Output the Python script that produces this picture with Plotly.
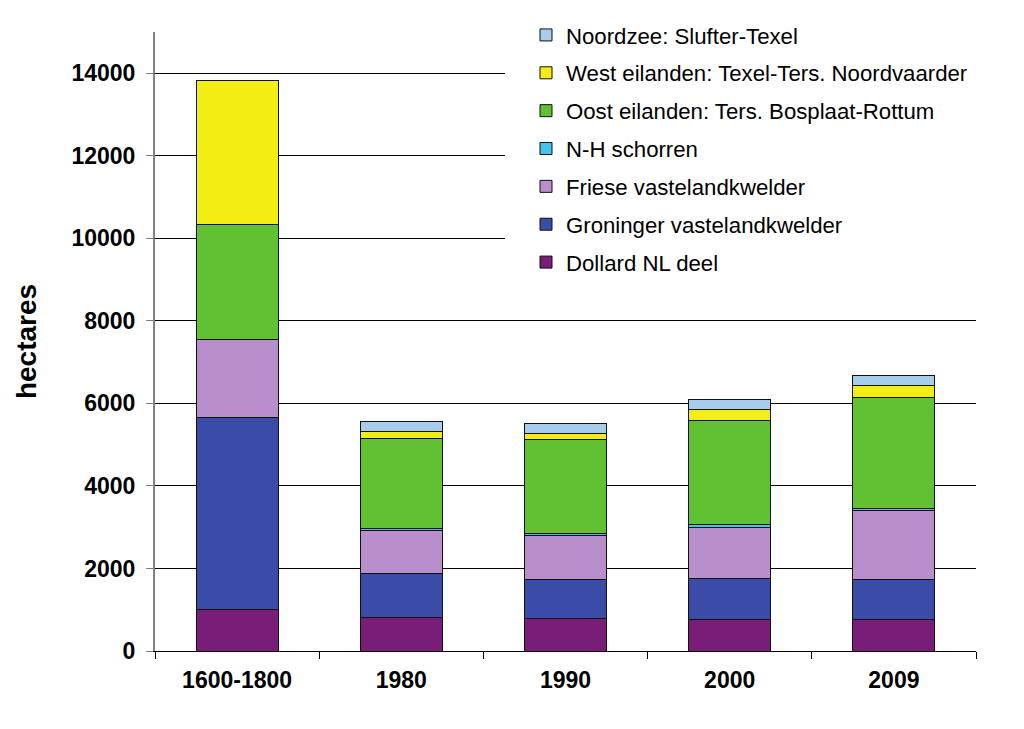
import plotly.graph_objects as go

categories = ["1600-1800", "1980", "1990", "2000", "2009"]

dollard = [1000, 800, 780, 757, 757]
groninger = [4650, 1080, 952, 990, 970]
friese = [1890, 1050, 1074, 1243, 1676]
nh_schorren = [0, 30, 30, 80, 50]
oost = [2800, 2190, 2282, 2523, 2684]
west = [3490, 160, 145, 266, 290]
noordzee = [0, 258, 249, 234, 250]

series = [
    ("Dollard NL deel", dollard, "#781E78"),
    ("Groninger vastelandkwelder", groninger, "#3A4BA8"),
    ("Friese vastelandkwelder", friese, "#B88ECC"),
    ("N-H schorren", nh_schorren, "#46C3EB"),
    ("Oost eilanden: Ters. Bosplaat-Rottum", oost, "#62C133"),
    ("West eilanden: Texel-Ters. Noordvaarder", west, "#F2EE14"),
    ("Noordzee: Slufter-Texel", noordzee, "#A8CCEC"),
]

fig = go.Figure()
n = len(series)
for i, (name, vals, color) in enumerate(series):
    fig.add_trace(go.Bar(
        x=categories, y=vals, name=name, legendgroup=f"g{i}",
        legendrank=(n - i) * 10,
        marker=dict(color=color, line=dict(color="#111111", width=1)),
    ))

font_family = "Liberation Sans, Arial, sans-serif"

# page body has an 8px margin; compensate
OFF = 8
L, R, T, B = 147, 56, 24, 86
W, H = 1024, 729
plot_w = W - L - R
plot_h = H - T - B


def px_x(sx):
    return (sx - OFF - L) / plot_w


def px_y(sy):
    return (H - B - (sy - OFF)) / plot_h


fig.update_layout(
    width=W, height=H,
    barmode="stack", bargap=0.5,
    plot_bgcolor="white", paper_bgcolor="white",
    margin=dict(l=L, r=R, t=T, b=B, autoexpand=False),
    font=dict(family=font_family, color="black"),
    legend=dict(
        x=px_x(526), xanchor="left",
        y=(H - B - 6) / plot_h, yanchor="top",
        traceorder="grouped", tracegroupgap=6,
        font=dict(size=22.2, family=font_family, color="black"),
        bgcolor="rgba(0,0,0,0)",
    ),
    showlegend=True,
    shapes=[dict(
        type="rect", xref="paper", yref="paper",
        x0=px_x(505), x1=1.01, y0=px_y(290), y1=0.999,
        fillcolor="white", line=dict(width=0), layer="above",
    )],
)

fig.update_xaxes(
    type="category", showline=True, linecolor="black", linewidth=1,
    ticks="outside", ticklen=7, tickcolor="black", tickson="boundaries",
    tickfont=dict(size=23, family=font_family, weight="bold", color="black"),
    ticklabelstandoff=8, automargin=False,
    showgrid=False, zeroline=False,
)
fig.update_yaxes(
    range=[0, 15000], tickvals=[0, 2000, 4000, 6000, 8000, 10000, 12000, 14000],
    tickformat="d", automargin=False,
    showline=True, linecolor="#808080", linewidth=2,
    ticks="outside", ticklen=7, tickcolor="#808080",
    tickfont=dict(size=23, family=font_family, weight="bold", color="black"),
    ticklabelstandoff=6,
    showgrid=True, gridcolor="black", gridwidth=1, zeroline=False,
    title=dict(text="hectares", font=dict(size=28, family=font_family, weight="bold", color="black"), standoff=27),
)

fig.write_html("out.html")
